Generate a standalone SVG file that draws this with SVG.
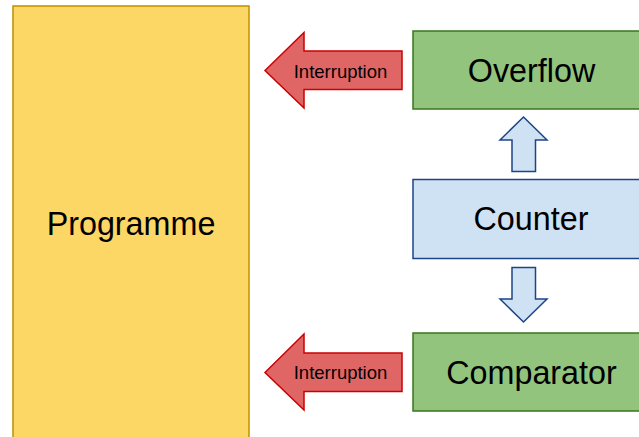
<svg xmlns="http://www.w3.org/2000/svg" width="639" height="437" viewBox="0 0 639 437">
<style>
text{font-family:"Liberation Sans",Arial,sans-serif;fill:#000;text-anchor:middle}
.big{font-size:32.3px}
.sm{font-size:18.5px}
.prog{fill:#fdd766;stroke:#bf9000;stroke-width:1.5}
.green{fill:#93c47d;stroke:#38761d;stroke-width:1.5}
.blue{fill:#cfe2f3;stroke:#1c4587;stroke-width:1.5}
.red{fill:#e06666;stroke:#cc0000;stroke-width:1.5}
</style>
<g id="programme">
<rect class="prog" x="13" y="6" width="236" height="440"/>
<text class="big" x="131" y="234.5">Programme</text>
</g>
<g id="overflow">
<rect class="green" x="413" y="31" width="240" height="78"/>
<text class="big" x="531.5" y="82">Overflow</text>
</g>
<g id="counter">
<rect class="blue" x="413" y="179.5" width="240" height="79"/>
<text class="big" x="531" y="229.5">Counter</text>
</g>
<g id="comparator">
<rect class="green" x="413" y="333" width="240" height="78"/>
<text class="big" x="531.5" y="383.5">Comparator</text>
</g>
<g id="connectors">
<g id="int1">
<path class="red" d="M265,70.5 L304,32.5 L304,51 L402,51 L402,89.5 L304,89.5 L304,108 Z"/>
<text class="sm" x="340.5" y="77.5">Interruption</text>
</g>
<g id="int2">
<path class="red" d="M265,372.5 L304,334 L304,353 L402,353 L402,391.5 L304,391.5 L304,410 Z"/>
<text class="sm" x="340.5" y="378.5">Interruption</text>
</g>
<path id="up" class="blue" d="M523.5,117 L547,140 L535.5,140 L535.5,171.5 L512,171.5 L512,140 L500,140 Z"/>
<path id="down" class="blue" d="M512,267.5 L535.5,267.5 L535.5,299 L547,299 L523.5,322 L500,299 L512,299 Z"/>
</g>
</svg>
